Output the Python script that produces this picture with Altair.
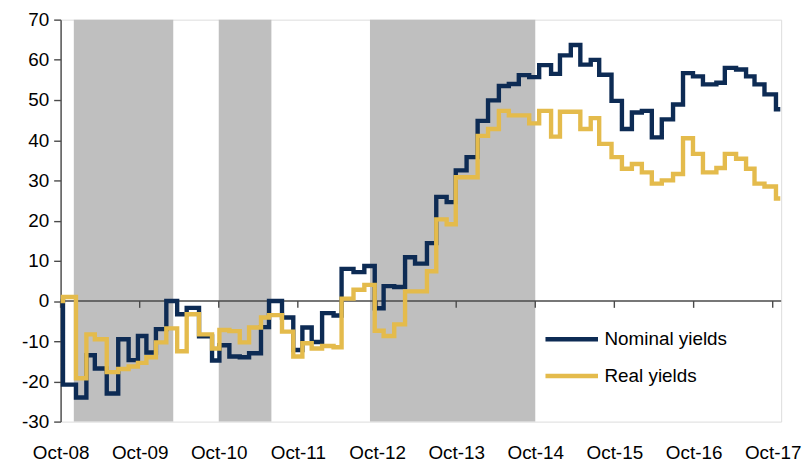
import altair as alt
import pandas as pd

# ---- data ----
dates = ["2008-10-01","2008-10-12","2008-12-11","2009-01-28","2009-03-08","2009-05-02","2009-06-24",
         "2009-08-11","2009-09-23","2009-11-01","2009-12-15","2010-02-01","2010-03-23","2010-05-06",
         "2010-07-02","2010-08-31","2010-10-04","2010-11-19","2011-01-06","2011-02-18","2011-04-14",
         "2011-05-21","2011-07-20","2011-09-10","2011-10-22","2011-12-04","2012-01-21","2012-03-14",
         "2012-04-20","2012-06-14","2012-08-03","2012-09-20","2012-10-31","2012-12-19","2013-02-07",
         "2013-03-25","2013-05-19","2013-07-01","2013-08-18","2013-09-29","2013-11-18","2014-01-08",
         "2014-02-25","2014-04-16","2014-06-01","2014-07-17","2014-09-03","2014-10-19","2014-12-13",
         "2015-01-23","2015-03-14","2015-04-27","2015-06-14","2015-07-23","2015-09-18","2015-11-05",
         "2015-12-21","2016-02-05","2016-03-22","2016-05-07","2016-06-28","2016-08-13","2016-09-28",
         "2016-11-13","2017-01-14","2017-02-22","2017-04-15","2017-05-31","2017-07-09","2017-08-24",
         "2017-10-16","2017-11-05"]

nominal = [0, -20.8, -24.0, -13.5, -16.8, -23.0, -9.5, -14.7, -8.7, -12.8, -7.0, 0, -3.3, -1.7,
           -8.8, -14.8, -11.0, -13.8, -14.0, -13.0, -6.5, 0, -4.1, -12.2, -6.6, -10.2, -3.0, -3.6,
           8.0, 7.2, 8.7, -1.8, 3.7, 3.5, 10.9, 9.3, 14.4, 25.9, 24.6, 32.5, 35.8, 44.8,
           49.9, 53.5, 54.0, 56.2, 55.7, 58.7, 56.5, 61.1, 63.7, 58.8, 60.0, 56.3, 49.8, 42.8,
           46.9, 47.3, 40.7, 45.2, 48.9, 56.7, 55.9, 53.9, 54.3, 58.0, 57.6, 55.9, 53.9, 51.4,
           47.7, 47.7]

real = [0, 1.0, -19.2, -8.3, -9.5, -17.7, -16.9, -16.3, -15.4, -14.0, -10.3, -6.8, -12.5, -3.3,
        -8.3, -11.8, -7.2, -7.5, -10.3, -6.6, -4.1, -3.5, -7.6, -13.8, -10.5, -11.8, -11.2, -11.5,
        0.6, 2.8, 4.0, -7.4, -8.7, -5.8, 2.4, 2.4, 7.4, 20.3, 19.1, 30.8, 30.8, 41.1,
        42.8, 47.3, 46.2, 46.2, 44.2, 47.3, 40.9, 47.1, 47.1, 42.8, 45.5, 39.1, 35.8, 32.9,
        34.1, 32.0, 29.2, 30.0, 31.6, 40.5, 36.6, 32.0, 33.1, 36.6, 35.4, 32.9, 29.2, 28.5,
        25.5, 25.5]

series_names = ["Nominal yields", "Real yields"]
series_colors = ["#0d2b54", "#e4bb4c"]

shade_start = ["2008-12-01", "2010-10-01", "2012-08-29"]
shade_end = ["2010-03-05", "2011-06-01", "2014-10-01"]

tick_years = list(range(2008, 2018))
y_ticks = list(range(-30, 80, 10))

# ---- tables ----
n = len(dates)
df = pd.DataFrame({
    "date": dates + dates,
    "value": nominal + real,
    "series": [series_names[0]] * n + [series_names[1]] * n,
})
shade_df = pd.DataFrame({"start": shade_start, "end": shade_end,
                         "lo": [-30] * len(shade_start), "hi": [70] * len(shade_start)})
tick_df = pd.DataFrame({"date": [f"{y}-10-01" for y in tick_years],
                        "y0": [0.0] * len(tick_years), "y1": [-1.7] * len(tick_years)})
zero_df = pd.DataFrame({"start": ["2008-10-01"], "end": ["2017-11-09"], "z": [0]})

FONT = "Liberation Sans"
AXIS_COLOR = "#4a4a4a"

x_scale = alt.Scale(type="utc",
                    domain=[alt.DateTime(year=2008, month=10, date=1, utc=True),
                            alt.DateTime(year=2017, month=11, date=9, utc=True)])
y_scale = alt.Scale(domain=[-30, 70], nice=False, zero=False)

x_axis = alt.Axis(values=[alt.DateTime(year=y, month=10, date=1, utc=True) for y in tick_years],
                  format="%b-%y", domain=False, ticks=False, grid=False, title=None,
                  labelFont=FONT, labelFontSize=19, labelColor="black", labelPadding=22,
                  labelFlush=False, labelOverlap=False)
y_axis = alt.Axis(values=y_ticks, labelExpr="datum.value + ''", grid=False, title=None,
                  domain=True, domainColor=AXIS_COLOR, domainWidth=1.4,
                  ticks=True, tickSize=7, tickColor=AXIS_COLOR, tickWidth=1.4,
                  labelFont=FONT, labelFontSize=19, labelColor="black", labelPadding=5)

shade = alt.Chart(shade_df).mark_rect(color="#bfbfbf").encode(
    x=alt.X("start:T", scale=x_scale, axis=x_axis),
    x2="end:T",
    y=alt.Y("lo:Q", scale=y_scale, axis=y_axis),
    y2="hi:Q",
)

zero_line = alt.Chart(zero_df).mark_rule(color=AXIS_COLOR, strokeWidth=1.4).encode(
    x=alt.X("start:T", scale=x_scale, axis=x_axis),
    x2="end:T",
    y=alt.Y("z:Q", scale=y_scale, axis=y_axis),
)

zero_ticks = alt.Chart(tick_df).mark_rule(color=AXIS_COLOR, strokeWidth=1.4).encode(
    x=alt.X("date:T", scale=x_scale, axis=x_axis),
    y=alt.Y("y0:Q", scale=y_scale, axis=y_axis),
    y2="y1:Q",
)

lines = alt.Chart(df).mark_line(interpolate="step-after", strokeWidth=4.4).encode(
    x=alt.X("date:T", scale=x_scale, axis=x_axis),
    y=alt.Y("value:Q", scale=y_scale, axis=y_axis),
    color=alt.Color("series:N",
                    scale=alt.Scale(domain=series_names, range=series_colors),
                    legend=alt.Legend(title=None, orient="none", legendX=486, legendY=313,
                                      symbolType="stroke", symbolStrokeWidth=4.5,
                                      symbolSize=2800, clipHeight=18,
                                      labelFont=FONT, labelFontSize=19,
                                      labelColor="black", labelOffset=4, rowPadding=18,
                                      padding=0)),
)

chart = alt.layer(shade, zero_line, zero_ticks, lines).properties(
    width=726, height=405,
    padding={"left": 53, "top": 10, "right": 21, "bottom": 43},
    autosize=alt.AutoSizeParams(type="none"),
).configure_view(stroke=None).configure(background="white")

chart.save("out.html", embed_options={"renderer": "svg", "actions": False})
